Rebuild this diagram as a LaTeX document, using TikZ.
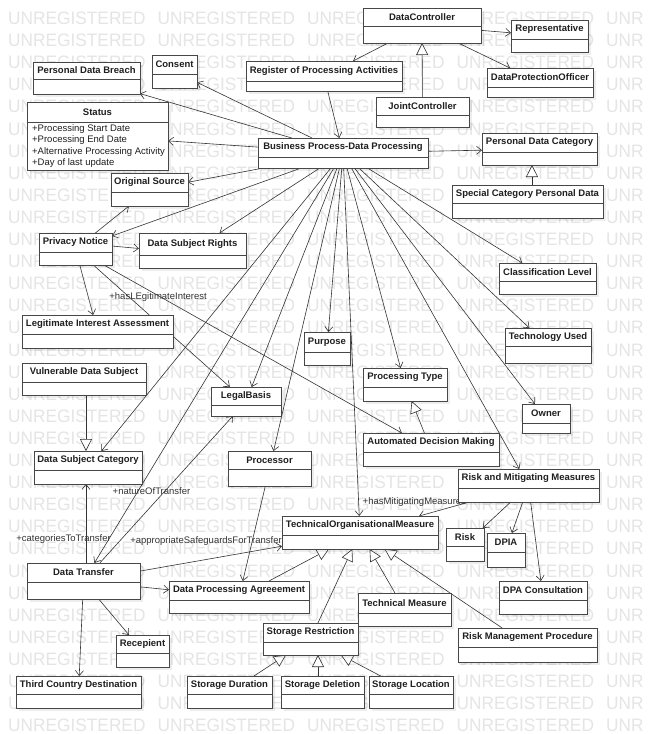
\documentclass[tikz,border=0pt]{standalone}
\usepackage{fontspec}
\setmainfont{Liberation Sans}
\newfontfamily\wmfont[FakeStretch=0.96]{Liberation Sans}
\usetikzlibrary{arrows.meta,shadows}
\pgfdeclarelayer{wm}
\pgfdeclarelayer{bg}
\pgfsetlayers{wm,bg,main}
\tikzset{
  clsbox/.style={draw=black!72, line width=0.9pt, fill=white, inner sep=0pt, outer sep=0pt,
    drop shadow={shadow xshift=3pt, shadow yshift=-3pt, fill=black, opacity=0.07}},
  clsline/.style={draw=black!72, line width=0.9pt},
  clstitle/.style={font=\fontsize{9.5}{11}\selectfont\bfseries, text=black!88, inner sep=0pt},
  attr/.style={font=\fontsize{9.5}{11.6}\selectfont, text=black!88, inner sep=0pt, align=left},
  assoc/.style={draw=black!80, line width=0.6pt, -{Straight Barb[length=5pt,width=8pt,line width=0.6pt]}},
  gen/.style={draw=black!80, line width=0.6pt, -{Triangle[open,length=12pt,width=12pt,fill=white,line width=0.6pt]}},
  lbl/.style={font=\fontsize{9.5}{11}\selectfont, text=black!80, inner sep=0pt},
  wmtext/.style={font=\wmfont\fontsize{18}{18}\selectfont, text=black!10, inner sep=0pt, anchor=base west},
}
\newcommand{\umlcls}[7]{%
  \node[clsbox, minimum width={(#4-#2)*1pt}, minimum height={(#5-#3)*1pt}] (#1) at ({(#2+#4)/2},{(#3+#5)/2}) {};
  \draw[clsline] (#2,#6) -- (#4,#6);
  \node[clstitle] (#1-t) at ({(#2+#4)/2},{(#3+#6)/2}) {#7};
}
\begin{document}
\begin{tikzpicture}[x=1pt,y=-1pt]
\useasboundingbox (0,0) rectangle (650,734);

\begin{pgfonlayer}{wm}
\fill[white] (0,0) rectangle (650,734);
\foreach \r in {0,...,32} {
  \foreach \c in {0,...,3} {
    \node[wmtext] (wm-\r-\c) at ({8+149.5*\c},{24.5+22.1*\r}) {UNREGISTERED};
  }
  \node[wmtext] (wm-\r-4) at (606,{24.5+22.1*\r}) {UNR};
}
\end{pgfonlayer}

\umlcls{dc}{363}{8}{481}{43}{26}{DataController}
\umlcls{rep}{511}{20}{588}{52}{39}{Representative}
\umlcls{dpo}{487}{68}{593}{97}{87}{DataProtectionOfficer}
\umlcls{jc}{376}{97}{469}{127}{115}{JointController}
\umlcls{ropa}{246}{61}{402}{91}{81}{Register of Processing Activities}
\umlcls{pdb}{33}{62}{140}{94}{79}{Personal Data Breach}
\umlcls{cons}{152}{55}{197}{88}{74}{Consent}
\umlcls{status}{27}{102}{168}{170}{122}{Status}
\node[attr, anchor=north west] (status-a) at (32,124) {+Processing Start Date\\+Processing End Date\\+Alternative Processing Activity\\+Day of last update};
\umlcls{bp}{258}{138}{428}{168}{157}{Business Process-Data Processing}
\umlcls{pdc}{482}{133}{597}{165}{152}{Personal Data Category}
\umlcls{scpd}{452}{185}{603}{218}{203}{Special Category Personal Data}
\umlcls{os}{111}{173}{188}{206}{192}{Original Source}
\umlcls{pn}{39}{233}{112}{265}{252}{Privacy Notice}
\umlcls{dsr}{139}{233}{246}{268}{255}{Data Subject Rights}
\umlcls{cl}{499}{263}{596}{294}{281}{Classification Level}
\umlcls{lia}{22}{315}{173}{348}{334}{Legitimate Interest Assessment}
\umlcls{purp}{304}{332}{350}{365}{352}{Purpose}
\umlcls{tu}{505}{328}{591}{363}{346}{Technology Used}
\umlcls{vds}{22}{363}{146}{395}{382}{Vulnerable Data Subject}
\umlcls{pt}{363}{368}{447}{401}{387}{Processing Type}
\umlcls{lb}{211}{387}{281}{416}{405}{LegalBasis}
\umlcls{own}{522}{404}{570}{433}{423}{Owner}
\umlcls{adm}{363}{433}{499}{466}{452}{Automated Decision Making}
\umlcls{dsc}{34}{451}{142}{484}{470}{Data Subject Category}
\umlcls{proc}{228}{451}{311}{486}{469}{Processor}
\umlcls{rmm}{458}{469}{599}{502}{488}{Risk and Mitigating Measures}
\umlcls{tom}{282}{516}{438}{549}{535}{TechnicalOrganisationalMeasure}
\umlcls{risk}{446}{528}{484}{561}{546}{Risk}
\umlcls{dpia}{487}{533}{525}{567}{552}{DPIA}
\umlcls{dt}{27}{563}{140}{599}{582}{Data Transfer}
\umlcls{dpa}{169}{581}{309}{613}{600}{Data Processing Agreeement}
\umlcls{dpac}{499}{581}{587}{614}{600}{DPA Consultation}
\umlcls{tm}{358}{593}{451}{626}{613}{Technical Measure}
\umlcls{sr}{263}{623}{358}{655}{642}{Storage Restriction}
\umlcls{rmp}{458}{628}{597}{662}{647}{Risk Management Procedure}
\umlcls{rec}{116}{635}{169}{667}{653}{Recepient}
\umlcls{tcd}{16}{676}{141}{708}{694}{Third Country Destination}
\umlcls{sdur}{187}{676}{272}{708}{694}{Storage Duration}
\umlcls{sdel}{281}{676}{364}{708}{694}{Storage Deletion}
\umlcls{sloc}{369}{676}{453}{708}{694}{Storage Location}

\begin{pgfonlayer}{bg}
% associations
\draw[assoc] (dc) -- (ropa);
\draw[assoc] (dc) -- (rep);
\draw[assoc] (dc) -- (dpo);
\draw[assoc] (ropa) -- (bp);
\draw[assoc] (bp) -- (pdc);
\draw[assoc] (bp) -- (cons);
\draw[assoc] (bp) -- (pdb);
\draw[assoc] (bp) -- (status);
\draw[assoc] (bp) -- (os);
\draw[assoc] (bp) -- (pn);
\draw[assoc] (bp) -- (dsr);
\draw[assoc] (bp) -- (dsc);
\draw[assoc] (bp) -- (dt);
\draw[assoc] (bp) -- (lb);
\draw[assoc] (bp) -- (proc);
\draw[assoc] (bp) -- (purp);
\draw[assoc] (bp) -- (tom);
\draw[assoc] (bp) -- (pt);
\draw[assoc] (bp) -- (rmm);
\draw[assoc] (bp) -- (own);
\draw[assoc] (bp) -- (tu);
\draw[assoc] (bp) -- (cl);
\draw[assoc] (pn) -- (os);
\draw[assoc] ([yshift=3pt]pn.east) -- ([yshift=2pt]dsr.west);
\draw[assoc] (pn) -- (lia);
\draw[assoc] (pn) -- node[lbl, pos=0.262, xshift=29pt] (lbl-hli) {+hasLEgitimateInterest} (lb);
\draw[assoc] (pn) -- (adm);
\draw[assoc] (dt) -- node[lbl, pos=0.49, xshift=-13.5pt] (lbl-not) {+natureOfTransfer} (lb);
\draw[assoc] ([xshift=2.5pt]dt.north) -- node[lbl, pos=0.30, xshift=-22.5pt] (lbl-ctt) {+categoriesToTransfer} ([xshift=-2pt]dsc.south);
\draw[assoc] (dt) -- node[lbl, pos=0.465, yshift=18.4pt] (lbl-asf) {+appropriateSafeguardsForTransfer} (tom);
\draw[assoc] (dt) -- (dpa);
\draw[assoc] (dt) -- (rec);
\draw[assoc] (dt) -- (tcd);
\draw[assoc] (proc) -- (dpa);
\draw[assoc] (rmm) -- node[lbl, pos=0, xshift=-55pt] (lbl-hmm) {+hasMitigatingMeasures} (tom);
\draw[assoc] (rmm) -- (risk);
\draw[assoc] (rmm) -- (dpia);
\draw[assoc] (rmm) -- (dpac);
% generalizations
\draw[gen] (jc) -- (dc);
\draw[gen] ([xshift=4.5pt]scpd.north) -- ([xshift=-7.5pt]pdc.south);
\draw[gen] ([xshift=2pt]vds.south) -- ([xshift=-2pt]dsc.north);
\draw[gen] (adm) -- (pt);
\draw[gen] (dpa) -- (tom);
\draw[gen] (sr) -- (tom);
\draw[gen] (tm) -- (tom);
\draw[gen] (rmp) -- (tom);
\draw[gen] (sdur) -- (sr);
\draw[gen] ([xshift=-4.5pt]sdel.north) -- ([xshift=7.5pt]sr.south);
\draw[gen] (sloc) -- (sr);
\end{pgfonlayer}
\end{tikzpicture}
\end{document}
